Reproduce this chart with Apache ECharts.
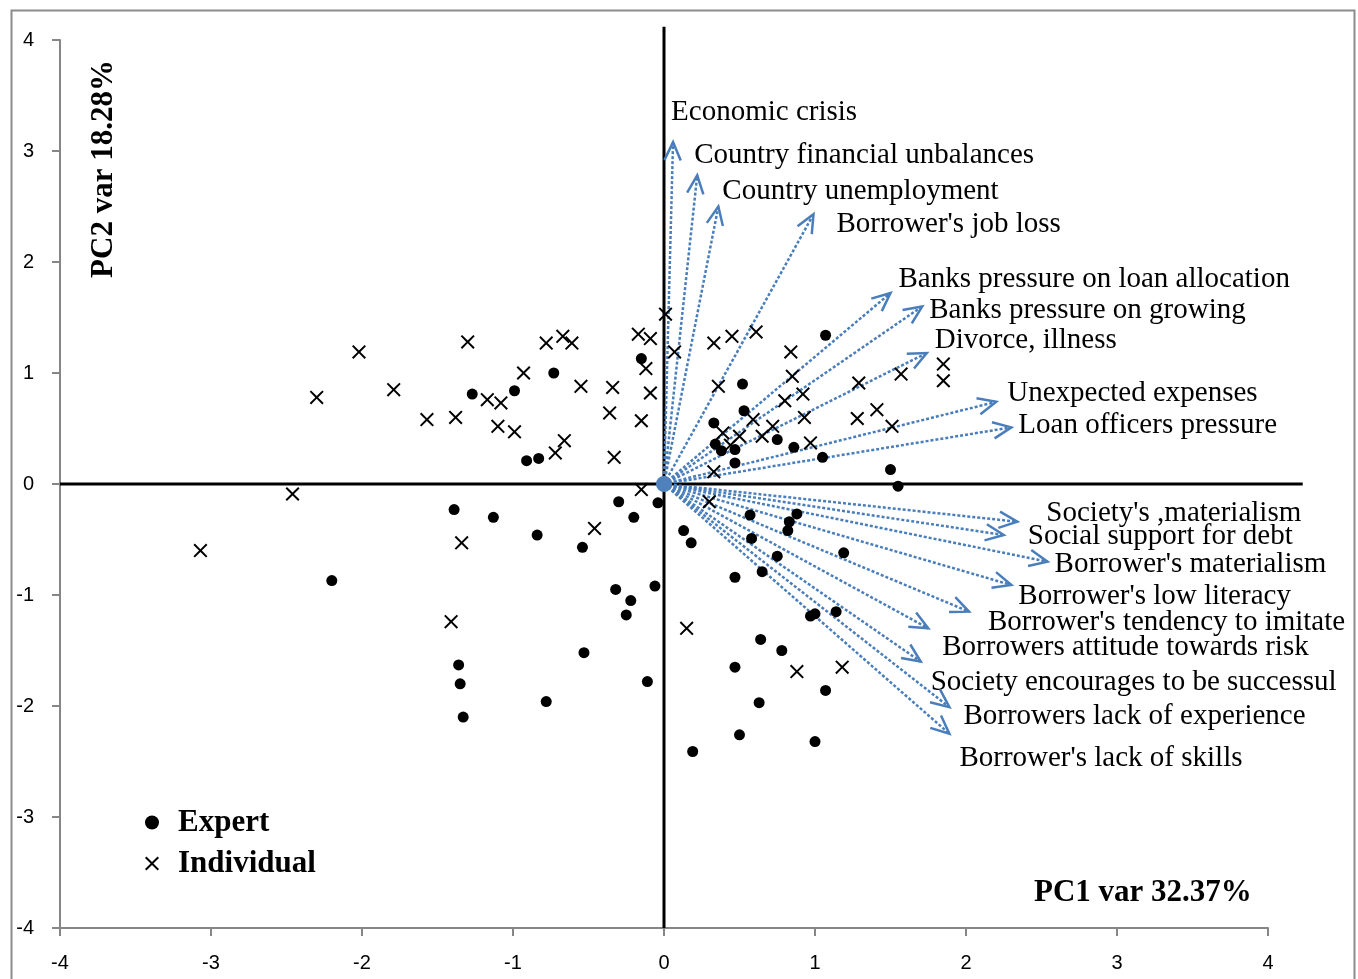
<!DOCTYPE html>
<html>
<head>
<meta charset="utf-8">
<script src="https://cdn.jsdelivr.net/npm/echarts@6/dist/echarts.min.js"></script>
<style>
  html, body { margin: 0; padding: 0; background: #fff; }
  #chart { width: 1358px; height: 979px; }
</style>
</head>
<body>
<div id="chart"></div>
<script>
// variable loadings (arrow tips)
const variables = [
  'Economic crisis', 'Country financial unbalances', 'Country unemployment', "Borrower's job loss",
  'Banks pressure on loan allocation', 'Banks pressure on growing', 'Divorce, illness',
  'Unexpected expenses', 'Loan officers pressure', "Society's ,materialism", 'Social support for debt',
  "Borrower's materialism", "Borrower's low literacy", "Borrower's tendency to imitate",
  'Borrowers attitude towards risk', 'Society encourages to be successul',
  'Borrowers lack of experience', "Borrower's lack of skills"
]
const loadPC1 = [0.06, 0.22, 0.36, 0.99, 1.50, 1.71, 1.74, 2.20, 2.30, 2.34, 2.25, 2.54, 2.30, 2.02, 1.75, 1.70, 1.89, 1.89]
const loadPC2 = [3.08, 2.78, 2.50, 2.43, 1.72, 1.60, 1.18, 0.74, 0.51, -0.34, -0.46, -0.70, -0.91, -1.15, -1.30, -1.60, -2.01, -2.25]

// respondents scores
const expertPC1 = [-0.15, -0.73, -1.27, -0.99, -0.91, -0.83, -0.30, -0.04, -1.39, -1.13, -0.20, -0.84, -0.54, -2.20, -0.32,
  -0.22, -0.25, -0.06, -0.53, -0.11, -1.36, -1.35, -1.33, -0.78, 1.07, 0.52, 0.53, 0.33, 0.34, 0.38, 0.47, 0.47, 0.75,
  0.86, 1.05, 1.50, 1.55, 0.13, 0.18, 0.57, 0.88, 0.83, 0.82, 0.58, 0.75, 1.19, 0.65, 0.47, 0.97, 1.00, 1.14, 0.64,
  0.78, 0.47, 1.07, 0.63, 0.50, 1.00, 0.19]
const expertPC2 = [1.13, 1.00, 0.81, 0.84, 0.21, 0.23, -0.16, -0.17, -0.23, -0.30, -0.30, -0.46, -0.57, -0.87, -0.95,
  -1.05, -1.18, -0.92, -1.52, -1.78, -1.63, -1.80, -2.10, -1.96, 1.34, 0.90, 0.66, 0.55, 0.36, 0.30, 0.31, 0.19, 0.40,
  0.33, 0.24, 0.13, -0.02, -0.42, -0.53, -0.28, -0.27, -0.34, -0.42, -0.49, -0.65, -0.62, -0.79, -0.84, -1.19, -1.17,
  -1.15, -1.40, -1.50, -1.65, -1.86, -1.97, -2.26, -2.32, -2.41]
const individualPC1 = [-2.02, -1.30, -0.78, -0.67, -0.61, -0.17, -0.09, 0.07, -0.12, -0.93, -2.30, -1.79, -0.55, -0.34,
  -0.09, -1.17, -1.08, -1.57, -1.38, -1.10, -0.99, -0.36, -0.15, -0.66, -0.72, -0.33, -2.46, -0.15, -3.07, -1.34, -0.46,
  -1.41, 0.01, 0.33, 0.45, 0.61, 0.84, 0.85, 0.36, 0.80, 0.92, 0.59, 0.72, 0.65, 0.50, 0.39, 0.44, 0.93, 0.97, 0.33,
  1.29, 1.57, 1.28, 1.41, 1.51, 1.85, 1.85, 0.30, 0.15, 0.88, 1.18]
const individualPC2 = [1.19, 1.28, 1.27, 1.33, 1.27, 1.35, 1.31, 1.19, 1.04, 1.00, 0.78, 0.85, 0.88, 0.87, 0.82, 0.76,
  0.73, 0.58, 0.60, 0.52, 0.47, 0.64, 0.57, 0.39, 0.28, 0.24, -0.09, -0.05, -0.60, -0.53, -0.40, -1.24, 1.53, 1.27,
  1.33, 1.37, 1.19, 0.97, 0.88, 0.75, 0.81, 0.58, 0.52, 0.43, 0.43, 0.46, 0.35, 0.60, 0.37, 0.11, 0.91, 0.99, 0.59,
  0.67, 0.52, 1.08, 0.93, -0.16, -1.30, -1.69, -1.65]

const axisMin = -4
const axisMax = 4
const axisStep = 1

// zero reference lines [x1, y1, x2, y2], running a bit past the axis ends like the original
const zeroLines = [[0, -4, 0, 4.12], [-4, 0, 4.23, 0]]

// label offsets from arrow tip, px
const labelOffsets = [[-2, -30], [-3, -20], [4, -15], [23, 10], [8, -14], [7, 4], [8, -13], [11, -8], [7, -2],
  [29, -8], [24, 1], [7, 3], [7, 11], [19, 11], [14, 19], [10, 21], [14, 9], [10, 25]]

const BLUE = '#4a7ebb'
const SERIF = '"Liberation Serif", "Times New Roman", serif'
const crossPath = 'path://M0,1L1,0L5,4L9,0L10,1L6,5L10,9L9,10L5,6L1,10L0,9L4,5Z'

const chart = echarts.init(document.getElementById('chart'))

const pairs = (xs, ys) => xs.map((x, i) => [x, ys[i]])
const arrowData = loadPC1.map((x, i) => [x, loadPC2[i], i])

chart.setOption({
  animation: false,
  grid: { left: 60, right: 90, top: 40, bottom: 51 },
  xAxis: {
    type: 'value', min: axisMin, max: axisMax, interval: axisStep,
    splitLine: { show: false },
    axisLine: { onZero: false, lineStyle: { color: '#868686', width: 2 } },
    axisTick: { length: 8, lineStyle: { color: '#868686', width: 2 } },
    axisLabel: { margin: 25, fontSize: 20, color: '#000', fontFamily: '"Liberation Sans", sans-serif' }
  },
  yAxis: {
    type: 'value', min: axisMin, max: axisMax, interval: axisStep,
    splitLine: { show: false },
    axisLine: { onZero: false, lineStyle: { color: '#868686', width: 2 } },
    axisTick: { length: 8, lineStyle: { color: '#868686', width: 2 } },
    axisLabel: { margin: 26, fontSize: 20, color: '#000', fontFamily: '"Liberation Sans", sans-serif' }
  },
  legend: {
    orient: 'vertical', left: 140, top: 802, itemWidth: 14, itemHeight: 14, itemGap: 10,
    data: [{ name: 'Expert', icon: 'circle' }, { name: 'Individual', icon: crossPath }],
    textStyle: { fontFamily: SERIF, fontWeight: 'bold', fontSize: 31, color: '#000', padding: [0, 0, 0, 14], lineHeight: 30 }
  },
  graphic: [
    { type: 'rect', left: 9, top: 8, shape: { width: 1343, height: 1000 }, style: { fill: 'none', stroke: '#8c8c8c', lineWidth: 2 }, silent: true },
    { type: 'text', x: 104, y: 169, rotation: Math.PI / 2,
      style: { text: 'PC2 var 18.28%', font: 'bold 31px ' + SERIF, fill: '#000', align: 'center', verticalAlign: 'middle' } },
    { type: 'text', x: 1034, y: 893,
      style: { text: 'PC1 var 32.37%', font: 'bold 31px ' + SERIF, fill: '#000', align: 'left', verticalAlign: 'middle' } }
  ],
  series: [
    {
      name: 'zero', type: 'custom', z: 1, silent: true, clip: false,
      data: zeroLines,
      renderItem: (params, api) => {
        const a = api.coord([api.value(0), api.value(1)])
        const b = api.coord([api.value(2), api.value(3)])
        return { type: 'line', shape: { x1: a[0], y1: a[1], x2: b[0], y2: b[1] }, style: { stroke: '#000', lineWidth: 3 } }
      }
    },
    {
      name: 'loadings', type: 'custom', z: 3, clip: false,
      data: arrowData,
      renderItem: (params, api) => {
        const i = api.value(2)
        const o = api.coord([0, 0])
        const p = api.coord([api.value(0), api.value(1)])
        const ang = Math.atan2(p[1] - o[1], p[0] - o[0])
        const L = 20, a = 0.42
        const w1 = [p[0] - L * Math.cos(ang - a), p[1] - L * Math.sin(ang - a)]
        const w2 = [p[0] - L * Math.cos(ang + a), p[1] - L * Math.sin(ang + a)]
        const off = labelOffsets[i]
        return {
          type: 'group',
          children: [
            { type: 'line', shape: { x1: o[0], y1: o[1], x2: p[0], y2: p[1] },
              style: { stroke: BLUE, lineWidth: 2.5, lineDash: [3, 2], fill: null } },
            { type: 'polyline', shape: { points: [w1, p, w2] },
              style: { stroke: BLUE, lineWidth: 2.5, fill: null } },
            { type: 'text', x: p[0] + off[0], y: p[1] + off[1],
              style: { text: variables[i], font: '29px ' + SERIF, fill: '#000', align: 'left', verticalAlign: 'middle' } }
          ]
        }
      }
    },
    {
      name: 'Expert', type: 'scatter', symbol: 'circle', symbolSize: 11, z: 4,
      itemStyle: { color: '#000', opacity: 1 },
      data: pairs(expertPC1, expertPC2)
    },
    {
      name: 'Individual', type: 'scatter', symbol: crossPath, symbolSize: 14, z: 4,
      itemStyle: { color: '#000', opacity: 1 },
      data: pairs(individualPC1, individualPC2)
    },
    {
      name: 'origin', type: 'scatter', symbolSize: 16, z: 5, silent: true,
      itemStyle: { color: '#4f81bd', opacity: 1 },
      data: [[0, 0]]
    }
  ]
})
window.addEventListener('resize', () => chart.resize())
</script>
</body>
</html>
